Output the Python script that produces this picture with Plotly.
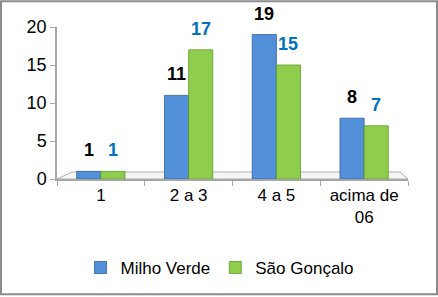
import plotly.graph_objects as go

categories = ["1", "2 a 3", "4 a 5", "acima de<br>06"]
milho_verde = [1, 11, 19, 8]
sao_goncalo = [1, 17, 15, 7]
series_names = ["Milho Verde", "São Gonçalo"]
y_ticks = [0, 5, 10, 15, 20]

W, H = 438, 297
L, R, T, B = 57, 30, 27, 117
pw, ph = W - L - R, H - T - B

FONT = "Liberation Sans, Arial, sans-serif"

fig = go.Figure()
fig.add_trace(go.Bar(x=categories, y=milho_verde, name=series_names[0],
                     marker=dict(color="#5390DA", line=dict(color="#2F5F9E", width=0.8))))
fig.add_trace(go.Bar(x=categories, y=sao_goncalo, name=series_names[1],
                     marker=dict(color="#8FCE4C", line=dict(color="#5E9A2A", width=0.8))))

annotations = []
for vals, color, shift in [(milho_verde, "#000000", -12), (sao_goncalo, "#0070C0", 12)]:
    for i, v in enumerate(vals):
        annotations.append(dict(x=i, y=v, xref="x", yref="y", text="<b>%d</b>" % v,
                                showarrow=False, xshift=shift, yshift=9, yanchor="bottom",
                                font=dict(family=FONT, size=18, color=color)))

def px(p):
    return (p - L) / pw

def py(p):
    return (H - B - p) / ph

shapes = [
    # outer border
    dict(type="rect", xref="paper", yref="paper", x0=px(1), x1=px(W - 1), y0=py(H - 1), y1=py(1),
         line=dict(color="#8C8C8C", width=2), fillcolor="rgba(0,0,0,0)", layer="below"),
    # 3D floor
    dict(type="path", xref="paper", yref="paper",
         path="M %f,%f L %f,%f L %f,%f L %f,%f Z" % (px(57), py(180), px(72), py(173), px(400), py(173), px(408), py(180)),
         line=dict(color="#B0B0B0", width=1), fillcolor="rgba(235,235,235,0.5)", layer="below"),
]

fig.update_layout(
    width=W, height=H,
    margin=dict(l=L, r=R, t=T, b=B),
    paper_bgcolor="white", plot_bgcolor="white",
    barmode="group", bargap=0.45, bargroupgap=0,
    showlegend=True,
    legend=dict(orientation="h", x=px(220), xanchor="center", y=py(268), yanchor="middle",
                font=dict(family=FONT, size=17, color="#000000"), itemwidth=30,
                traceorder="normal"),
    annotations=annotations,
    shapes=shapes,
    font=dict(family=FONT),
)
fig.update_yaxes(range=[0, 20], tickvals=y_ticks, showgrid=False, zeroline=False,
                 showline=True, linecolor="#A6A6A6", linewidth=1.5,
                 ticks="outside", ticklen=5, tickcolor="#A6A6A6",
                 tickfont=dict(family=FONT, size=18, color="#000000"))
fig.update_xaxes(type="category", showgrid=False, showline=True, linecolor="#A6A6A6", linewidth=1.5,
                 ticks="outside", tickson="boundaries", ticklen=5, tickcolor="#A6A6A6",
                 tickfont=dict(family=FONT, size=17, color="#000000"))

fig.write_html("out.html", config={"displayModeBar": False},
               post_script="document.body.style.margin='0';document.body.style.padding='0';")
